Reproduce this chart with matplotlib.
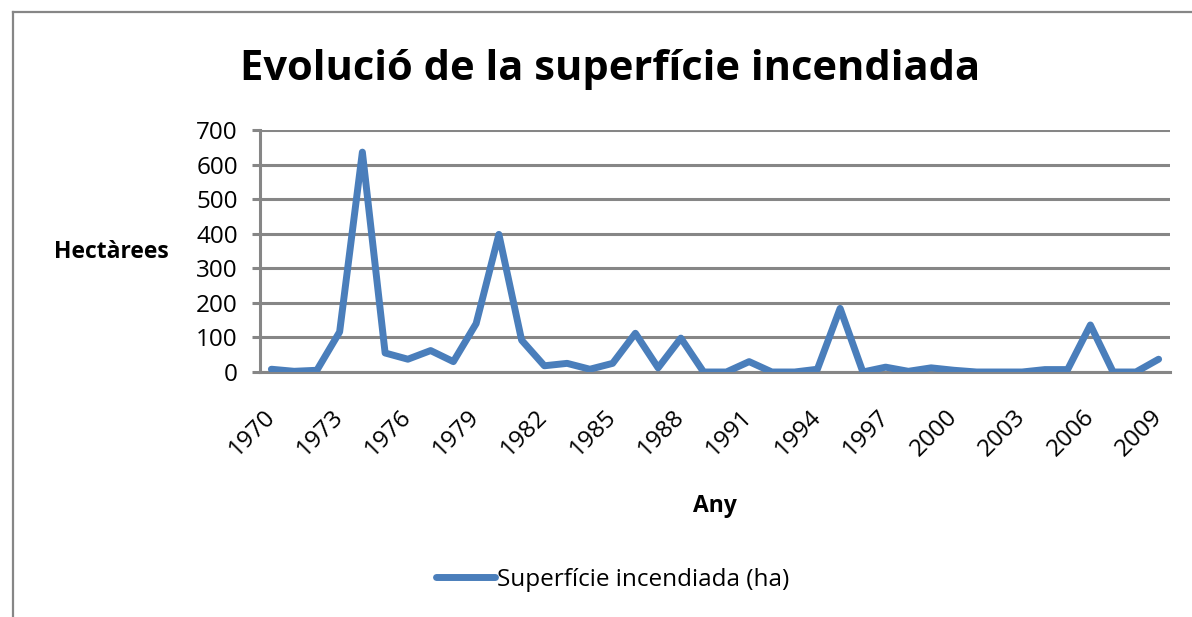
import matplotlib
matplotlib.use("Agg")
import matplotlib.pyplot as plt
from matplotlib.lines import Line2D

# ── Data ──
years = list(range(1970, 2010))
hectares = [8, 2, 5, 116, 636, 55, 37, 62, 30, 140,
            398, 92, 18, 25, 8, 25, 112, 12, 98, 0,
            0, 30, 0, 0, 8, 184, 0, 14, 2, 12,
            5, 0, 0, 0, 7, 7, 136, 0, 0, 37]
tick_years = years[::3]

plt.rcParams['font.family'] = ['Open Sans', 'DejaVu Sans']

GRID = '#868686'
BLUE = '#4A7EBB'
W, H = 1192, 617

fig = plt.figure(figsize=(W / 100, H / 100), dpi=100)
ax = fig.add_axes([260 / W, 1 - 372 / H, 910 / W, 242 / H])

idx = list(range(len(years)))
ax.plot(idx, hectares, color=BLUE, lw=5, solid_joinstyle='round',
        solid_capstyle='round', label='Superfície incendiada (ha)', zorder=3)

ax.set_xlim(-0.5, len(years) - 0.5)
ax.set_ylim(0, 700)
ax.set_yticks(range(0, 701, 100))
ax.yaxis.grid(True, color=GRID, lw=2.2)
ax.set_axisbelow(True)

for s in ['top', 'right']:
    ax.spines[s].set_visible(False)
for s in ['left', 'bottom']:
    ax.spines[s].set_color(GRID)
    ax.spines[s].set_linewidth(2.2)

ax.tick_params(axis='y', length=6, width=2.2, color=GRID, labelsize=17.5, pad=10)
ax.set_xticks([years.index(y) for y in tick_years])
ax.set_xticklabels([str(y) for y in tick_years])
ax.tick_params(axis='x', length=0, labelsize=17.5, pad=30)
for lbl in ax.get_xticklabels():
    lbl.set(rotation=45, ha='right', va='center', rotation_mode='anchor')

# ── Titles ──
fig.text(610 / W, 1 - 70 / H, 'Evolució de la superfície incendiada',
         ha='center', va='center', fontsize=30, fontweight='bold')
fig.text(111 / W, 1 - 252 / H, 'Hectàrees', ha='center', va='center',
         fontsize=16.5, fontweight='bold')
fig.text(715 / W, 1 - 506 / H, 'Any', ha='center', va='center',
         fontsize=16.5, fontweight='bold')

# ── Legend ──
fig.legend(loc='center', bbox_to_anchor=(613 / W, 1 - 580 / H), frameon=False,
           fontsize=17.5, handlelength=2.4, handletextpad=0.1)

# ── Chart area frame (left and top edges visible) ──
fig.add_artist(Line2D([13 / W, 1], [1 - 12 / H, 1 - 12 / H], color=GRID, lw=1.6,
                      transform=fig.transFigure))
fig.add_artist(Line2D([13 / W, 13 / W], [0, 1 - 12 / H], color=GRID, lw=1.6,
                      transform=fig.transFigure))

plt.savefig('out.png', dpi=100, facecolor='white')
